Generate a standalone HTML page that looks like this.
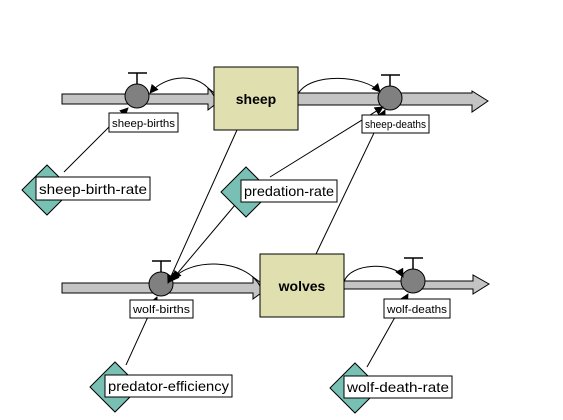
<!DOCTYPE html>
<html><head><meta charset="utf-8"><style>
html,body{margin:0;padding:0;background:#fff;}
svg{display:block;font-family:"Liberation Sans","DejaVu Sans",sans-serif;}
</style></head><body>
<svg width="563" height="420" viewBox="0 0 563 420" xmlns="http://www.w3.org/2000/svg">
<defs>
<marker id="ah" viewBox="0 0 10 10" refX="9" refY="5" markerWidth="9" markerHeight="9" orient="auto" markerUnits="userSpaceOnUse"><path d="M0,0 L10,5 L0,10 z" fill="#000"/></marker>
</defs>
<g stroke="#000" stroke-width="1">
<path d="M62,94 L208,94 L208,88 L222,99 L208,110 L208,104 L62,104 Z" fill="#c4c4c4"/>
<path d="M298,93 L472,93 L472,91 L488,101 L472,112 L472,105 L298,105 Z" fill="#c4c4c4"/>
<path d="M62,283 L253,283 L253,277 L268,288 L253,299 L253,293 L62,293 Z" fill="#c4c4c4"/>
<path d="M344,281 L473,281 L473,275 L489,284 L473,294 L473,289 L344,289 Z" fill="#c4c4c4"/>
<rect x="214" y="67" width="84" height="63" fill="#e0dfb0"/>
<rect x="260" y="254" width="84" height="63" fill="#e0dfb0"/>
<g fill="#808080">
<circle cx="137" cy="96" r="12"/>
<circle cx="390" cy="98" r="12"/>
<circle cx="161" cy="284" r="12"/>
<circle cx="413" cy="281" r="12"/>
</g>
<g fill="none" stroke-width="1.5">
<path d="M137,84 V73 M128,73 H147"/>
<path d="M390,86 V75 M381,75 H400"/>
<path d="M161,272 V261 M152,261 H171"/>
<path d="M413,269 V258 M404,258 H423"/>
</g>
<g fill="none">
<path d="M214,96 C200,70 165,75 150,93" marker-end="url(#ah)"/>
<path d="M298,94 C310,72 365,75 380,92" marker-end="url(#ah)"/>
<path d="M260,286 C245,258 190,258 173,279" marker-end="url(#ah)"/>
<path d="M344,282 C350,262 395,262 403,277" marker-end="url(#ah)"/>
<path d="M64,172 L128,108" marker-end="url(#ah)"/>
<path d="M237,130 L168,283" marker-end="url(#ah)"/>
<path d="M270,177 L383,107" marker-end="url(#ah)"/>
<path d="M235,205 L171,281" marker-end="url(#ah)"/>
<path d="M316,254 L385,110" marker-end="url(#ah)"/>
<path d="M126,365 L157,297" marker-end="url(#ah)"/>
<path d="M367,367 L408,294" marker-end="url(#ah)"/>
</g>
<g fill="#78bfb4">
<path d="M47,165 L72,190 L47,215 L22,190 Z"/>
<path d="M246,167 L271,192 L246,217 L221,192 Z"/>
<path d="M115,362 L140,387 L115,412 L90,387 Z"/>
<path d="M355,363 L380,388 L355,413 L330,388 Z"/>
</g>
<g fill="#fff">
<rect x="109" y="113" width="69" height="19"/>
<rect x="362" y="115" width="67" height="18"/>
<rect x="130" y="300" width="63" height="18"/>
<rect x="384" y="299" width="66" height="19"/>
<rect x="36" y="177" width="114" height="23"/>
<rect x="241" y="180" width="96" height="22"/>
<rect x="105" y="375" width="127" height="22"/>
<rect x="344" y="376" width="108" height="22"/>
</g>
</g>
<g font-size="11" fill="#000" lengthAdjust="spacingAndGlyphs">
<text x="112" y="127" textLength="63" lengthAdjust="spacingAndGlyphs">sheep-births</text>
<text x="365" y="128" textLength="61" lengthAdjust="spacingAndGlyphs">sheep-deaths</text>
<text x="133" y="313" textLength="57" lengthAdjust="spacingAndGlyphs">wolf-births</text>
<text x="387" y="313" textLength="60" lengthAdjust="spacingAndGlyphs">wolf-deaths</text>
</g>
<g font-size="14" fill="#000">
<text x="39" y="194" textLength="108" lengthAdjust="spacingAndGlyphs">sheep-birth-rate</text>
<text x="244" y="196" textLength="90" lengthAdjust="spacingAndGlyphs">predation-rate</text>
<text x="108" y="391" textLength="121" lengthAdjust="spacingAndGlyphs">predator-efficiency</text>
<text x="347" y="392" textLength="102" lengthAdjust="spacingAndGlyphs">wolf-death-rate</text>
</g>
<g font-size="14" font-weight="bold" fill="#000" text-anchor="middle">
<text x="256" y="104">sheep</text>
<text x="302" y="291">wolves</text>
</g>
</svg>
</body></html>
